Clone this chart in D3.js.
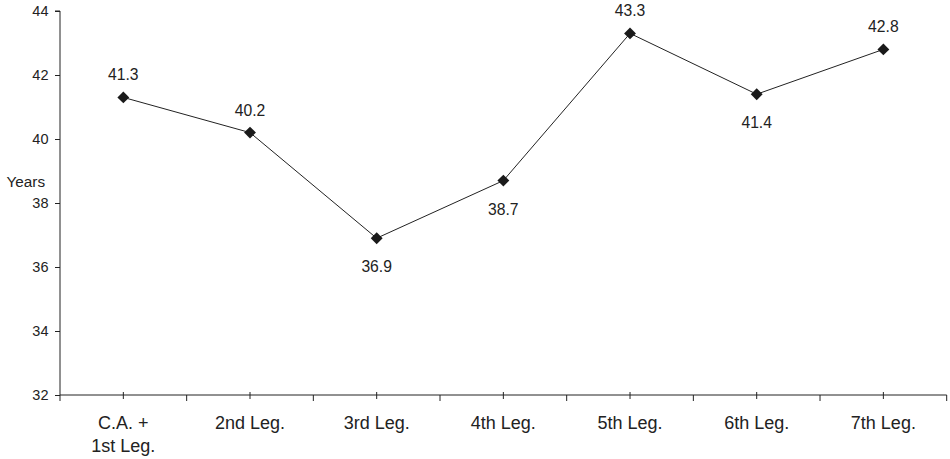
<!DOCTYPE html>
<html><head><meta charset="utf-8">
<script src="https://cdn.jsdelivr.net/npm/d3@7"></script>
<style>body{margin:0;background:#fff;} text{font-family:"Liberation Sans",Arial,sans-serif;fill:#222;}</style>
</head><body>
<svg id="c" width="950" height="459"></svg>
<script>
const categories = [["C.A. +","1st Leg."],["2nd Leg."],["3rd Leg."],["4th Leg."],["5th Leg."],["6th Leg."],["7th Leg."]];
const values = [41.3, 40.2, 36.9, 38.7, 43.3, 41.4, 42.8];
const labelPos = ["above","above","below","below","above","below","above"];
const yTicks = [32, 34, 36, 38, 40, 42, 44];
const yTitle = "Years";

(function(){
const svg = d3.select("#c");
const mL = 60, mR = 946.7, mT = 11, mB = 395;
const x = d3.scaleBand().domain(d3.range(categories.length)).range([mL, mR]);
const y = d3.scaleLinear().domain([32, 44]).range([mB, mT]);
const cx = i => x(i) + x.bandwidth()/2;
const col = "#222";

const ya = svg.append("g").attr("transform", `translate(${mL},0)`)
  .call(d3.axisLeft(y).tickValues(yTicks).tickSize(5).tickPadding(6.5).tickFormat(d3.format("d")));
ya.select(".domain").attr("stroke", col).attr("d", `M-5,${mT}H0V${mB}`);
ya.selectAll(".tick line").attr("stroke", col);
ya.selectAll("text").attr("font-size", 14.5).attr("fill", "#222").style("font-family","Liberation Sans, Arial, sans-serif");

const g = svg.append("g");
g.append("line").attr("x1", mL).attr("x2", mR).attr("y1", mB).attr("y2", mB).attr("stroke", col);
const bounds = d3.range(categories.length + 1).map(i => i < categories.length ? x(i) : mR);
g.selectAll(".bt").data(bounds).enter().append("line")
  .attr("x1", d => d).attr("x2", d => d).attr("y1", mB).attr("y2", mB + 6).attr("stroke", col);
g.selectAll(".ct").data(d3.range(categories.length)).enter().append("line")
  .attr("x1", cx).attr("x2", cx).attr("y1", mB - 3).attr("y2", mB + 4).attr("stroke", col);
const cl = g.selectAll(".cl").data(categories).enter().append("text")
  .attr("text-anchor", "middle").attr("font-size", 18)
  .attr("transform", (d, i) => `translate(${cx(i)},${429})`);
cl.selectAll("tspan").data(d => d).enter().append("tspan")
  .attr("x", 0).attr("dy", (d, j) => j === 0 ? 0 : 23).text(d => d);

svg.append("text").attr("x", 6.5).attr("y", 187).attr("font-size", 15.3).text(yTitle);

const line = d3.line().x((d, i) => cx(i)).y(d => y(d));
svg.append("path").datum(values).attr("d", line).attr("fill", "none").attr("stroke", col).attr("stroke-width", 1);

svg.selectAll(".m").data(values).enter().append("path")
  .attr("d", d3.symbol().type(d3.symbolDiamond2).size(90))
  .attr("transform", (d, i) => `translate(${cx(i)},${y(d)})`)
  .attr("fill", "#1a1a1a");

svg.selectAll(".dl").data(values).enter().append("text")
  .attr("text-anchor", "middle").attr("font-size", 15.7)
  .attr("x", (d, i) => cx(i))
  .attr("y", (d, i) => labelPos[i] === "above" ? y(d) - 17 : y(d) + 34)
  .text(d => d.toFixed(1));
})();
</script>
</body></html>
